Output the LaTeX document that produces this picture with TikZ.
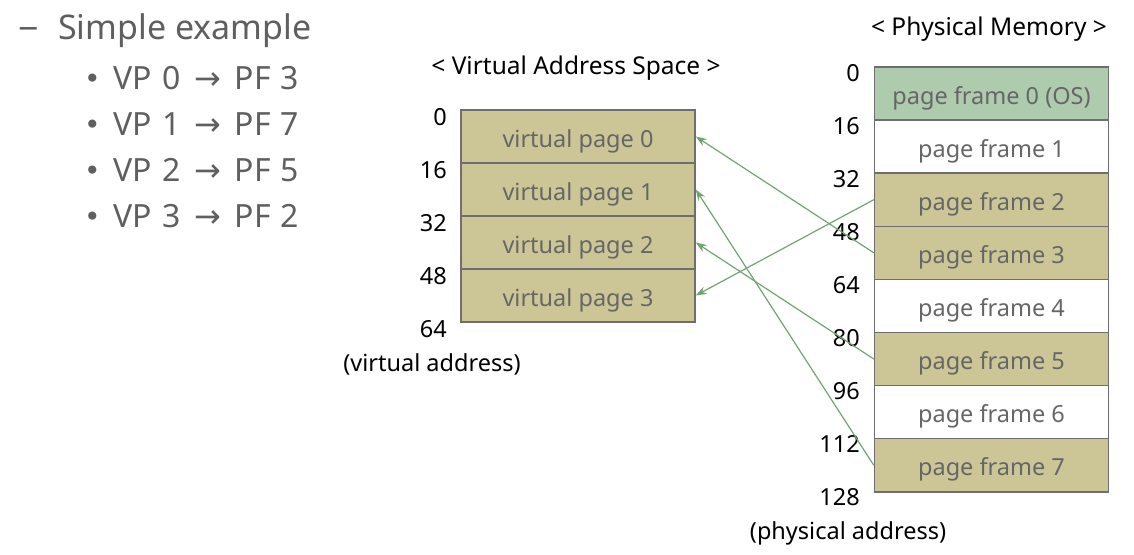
\documentclass[tikz,border=0pt]{standalone}
\usepackage{fontspec}
\setmainfont{Noto Sans}
\newfontfamily\symfont{DejaVu Sans}
\usetikzlibrary{arrows.meta}
\definecolor{khaki}{HTML}{CCC697}
\definecolor{osgreen}{HTML}{AECBAE}
\definecolor{edgegray}{HTML}{6E6E6E}
\definecolor{boxtext}{HTML}{666666}
\definecolor{bodytext}{HTML}{5F5F5F}
\definecolor{mapgreen}{HTML}{72A472}
\tikzset{
  memcell/.style={draw=edgegray, line width=1.5pt, minimum width=234pt, minimum height=53pt,
    inner sep=0pt, text height=21pt, text depth=0pt, text=boxtext,
    font=\fontsize{23.5}{25}\selectfont},
  vpage/.style={memcell, fill=khaki},
  pframe/.style={memcell, minimum height=53.1pt},
  addr/.style={anchor=east, inner sep=0pt, font=\fontsize{23.5}{25}\selectfont},
  caption/.style={inner sep=0pt, font=\fontsize{23.5}{25}\selectfont},
  heading/.style={inner sep=0pt, font=\fontsize{24.5}{26}\selectfont},
  mapping/.style={draw=mapgreen, line width=1.2pt, -{Stealth[length=11pt,width=8pt]}},
  bulletline/.style={anchor=west, inner sep=0pt, text=bodytext, font=\fontsize{32}{34}\selectfont},
}
\newcommand{\maparrow}{{\symfont\fontsize{32}{34}\selectfont→}}
\begin{document}
\begin{tikzpicture}[x=1pt,y=-1pt]
\useasboundingbox (0,0) rectangle (1134,554);

% outline text on the left
\node[bulletline, font=\fontsize{36}{38}\selectfont] (dash) at (18,35) {−};
\node[bulletline, font=\fontsize{34}{36}\selectfont] (simple) at (58,31) {Simple example};
\foreach \v/\p/\yy [count=\i] in {0/3/78, 1/7/124, 2/5/170, 3/2/216} {
  \node[bulletline, font=\symfont\fontsize{28}{30}\selectfont] (dot\i) at (84,{\yy+3}) {•};
  \node[bulletline] (vp\i) at (113,\yy)
    {VP\hspace{11pt}\v\hspace{13pt}\maparrow\hspace{14pt}PF\hspace{10pt}\p};
}

% virtual address space
\node[heading] (vtitle) at (576,68) {< Virtual Address Space >};
\foreach \k in {0,...,3} {
  \node[vpage] (v\k) at (578,{136.5+53*\k}) {virtual page \k};
}
\foreach \a [count=\i from 0] in {0,16,32,48,64} {
  \node[addr] (va\i) at (447,{117+53*\i}) {\a};
}
\node[caption] (vaddr) at (432,364) {(virtual address)};

% physical memory
\node[heading] (ptitle) at (989,29) {< Physical Memory >};
\node[pframe, fill=osgreen] (p0) at (991.5,93.5) {page frame 0 (OS)};
\foreach \k/\c in {1/white,2/khaki,3/khaki,4/white,5/khaki,6/white,7/khaki} {
  \node[pframe, fill=\c] (p\k) at (991.5,{93.5+53.1*\k}) {page frame \k};
}
\foreach \a [count=\i from 0] in {0,16,32,48,64,80,96,112,128} {
  \node[addr] (pa\i) at (860,{73+53.05*\i}) {\a};
}
\node[caption] (paddr) at (848,533) {(physical address)};

% page table mappings
\draw[mapping] (p3.west) -- (v0.east);
\draw[mapping] (p7.west) -- (v1.east);
\draw[mapping] (p5.west) -- (v2.east);
\draw[mapping] (p2.west) -- (v3.east);
\end{tikzpicture}
\end{document}
